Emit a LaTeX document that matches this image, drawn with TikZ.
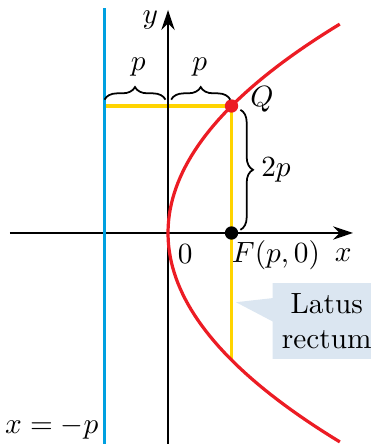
\documentclass[tikz,border=0pt]{standalone}
\usetikzlibrary{arrows.meta,decorations.pathreplacing,shapes.callouts}
\definecolor{dirblue}{RGB}{0,160,224}
\definecolor{lryellow}{RGB}{255,212,0}
\definecolor{parred}{RGB}{236,28,36}
\definecolor{boxblue}{RGB}{219,230,241}
\begin{document}
\begin{tikzpicture}[%
    x=0.762cm,y=0.762cm,%
    axis/.style={draw,line width=0.6pt,-{Stealth[length=2.4mm,width=1.6mm]}},%
    directrix/.style={draw=dirblue,line width=1.3pt},%
    rectum/.style={draw=lryellow,line width=1.2pt},%
    parabola/.style={draw=parred,line width=1.1pt},%
    bracelabel/.style={draw,line width=0.6pt,decorate,decoration={brace,amplitude=4.3pt}},%
    dot/.style={circle,inner sep=0pt,minimum size=1.6mm},%
    callbox/.style={%
        rectangle callout,fill=boxblue,align=center,%
        minimum width=1.3cm,minimum height=0.91cm,inner sep=1pt,%
        callout pointer width=0.28cm%
    },%
]%
    \useasboundingbox (-2.646,-3.323) rectangle (3.181,3.669);
    \pgfmathsetmacro{\Ymax}{3.29}

    % axes, directrix and latus rectum
    \coordinate (xl) at (-2.49,0);
    \coordinate (xr) at (2.913,0);
    \coordinate (yb) at (0,-3.4);
    \coordinate (yt) at (0,3.512);
    \coordinate (db) at (-1,-3.4);
    \coordinate (dt) at (-1,3.543);
    \coordinate (D) at (-1,2);
    \coordinate (Q) at (1,2);
    \coordinate (F) at (1,0);
    \coordinate (R) at (1,-2);

    \draw[rectum] (D) -- (Q);
    \draw[rectum] (Q) -- (R);
    \draw[axis] (xl) -- (xr);
    \draw[axis] (yb) -- (yt);
    \draw[directrix] (db) -- (dt);

    % the parabola y^2=4px
    \draw[parabola] plot[domain=-\Ymax:\Ymax,samples=80] ({\x*\x/4},\x);

    \node[dot,fill=parred] (Qdot) at (Q) {};
    \node[dot,fill=black] (Fdot) at (F) {};

    % braces
    \draw[bracelabel] (-1,2.1) -- (-0.04,2.1);
    \draw[bracelabel] (0.05,2.1) -- (0.98,2.1);
    \draw[bracelabel] (1.14,1.94) -- (1.14,0.05);

    % labels
    \node (plabA) at (-0.47,2.61) {$p$};
    \node (plabB) at (0.5,2.61) {$p$};
    \node (qlab) at (1.48,2.1) {$Q$};
    \node (twop) at (1.7,0.99) {$2p$};
    \node (ylab) at (-0.28,3.35) {$y$};
    \node (xlab) at (2.76,-0.35) {$x$};
    \node (olab) at (0.27,-0.33) {$0$};
    \node (flab) at (1.7,-0.35) {$F(p,0)$};
    \node (dlab) at (-1.83,-3.07) {$x=-p$};

    \coordinate (tip) at (1.07,-1.09);
    \node[callbox,callout absolute pointer={(tip)}] (lr) at (2.5,-1.385) {Latus\\rectum};
\end{tikzpicture}
\end{document}
